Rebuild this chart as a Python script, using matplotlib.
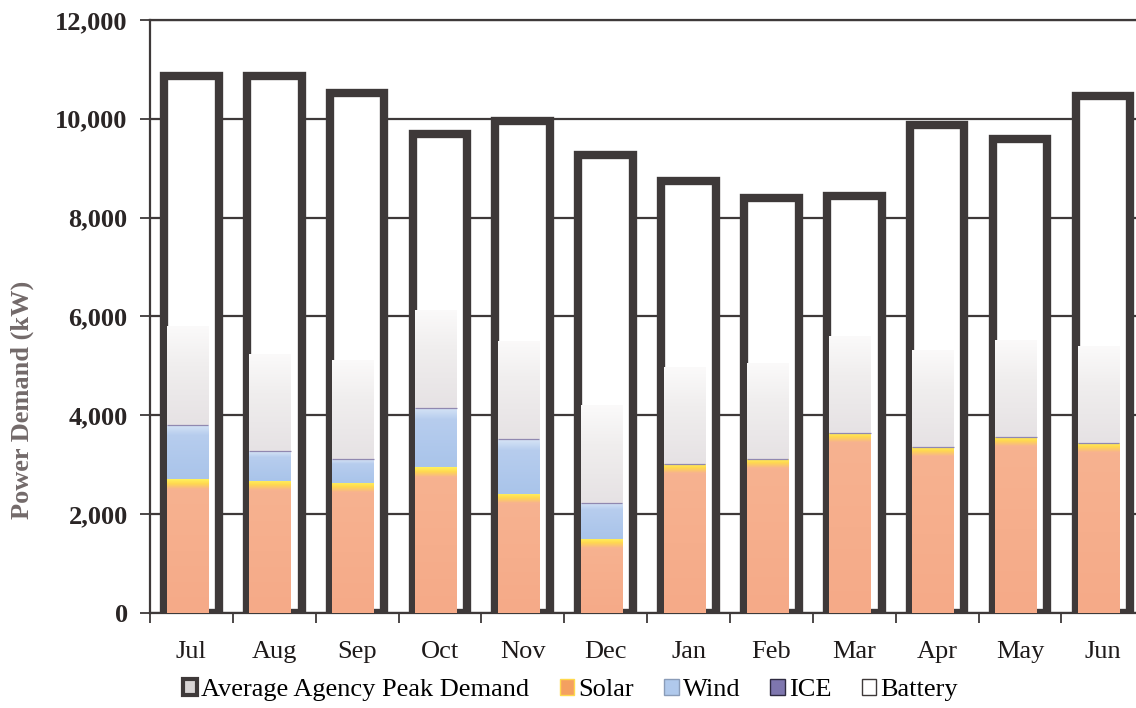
import numpy as np
import matplotlib.pyplot as plt
from matplotlib.colors import LinearSegmentedColormap
from matplotlib.patches import Patch

months = ["Jul", "Aug", "Sep", "Oct", "Nov", "Dec", "Jan", "Feb", "Mar", "Apr", "May", "Jun"]
peak_demand = [10870, 10860, 10530, 9700, 9950, 9270, 8740, 8390, 8440, 9880, 9590, 10460]
solar = [2710, 2680, 2640, 2950, 2410, 1500, 3015, 3120, 3650, 3370, 3570, 3450]
wind = [1100, 600, 470, 1200, 1110, 735, 0, 0, 0, 0, 0, 0]
ice = [0, 0, 0, 0, 0, 0, 0, 0, 0, 0, 0, 0]
battery = [1990, 1960, 2010, 1990, 1990, 1975, 1955, 1935, 1950, 1960, 1950, 1960]

DARK = "#3e3939"
SOLAR = "#f6ad8b"
WIND = "#b0c9ec"
ICE = "#7e76ae"
BATTERY = "#eeecec"


def gradient_fill(ax, rect, stops):
    # paint a vertical gradient inside a bar patch
    x, y = rect.get_xy()
    w, h = rect.get_width(), rect.get_height()
    if h <= 0:
        return
    cmap = LinearSegmentedColormap.from_list("g", stops)
    grad = np.linspace(0, 1, 256).reshape(-1, 1)
    im = ax.imshow(grad, extent=[x, x + w, y, y + h], origin="lower",
                   aspect="auto", cmap=cmap, zorder=rect.get_zorder() + 0.1)
    im.set_clip_path(rect)


fig = plt.figure(figsize=(11.36, 7.08), dpi=100)
ax = fig.add_axes([0.132, 0.134, 0.868, 0.838])

x = np.arange(len(months))
solar_arr = np.array(solar)
wind_arr = np.array(wind)
ice_arr = np.array(ice)

# outer demand bars: white with heavy dark frame
outer = ax.bar(x, peak_demand, width=0.66, color="white", edgecolor=DARK,
               linewidth=6, zorder=2)

# stacked supply bars inside
inner_x = x - 0.05
w_in = 0.5
b_solar = ax.bar(inner_x, solar, width=w_in, color=SOLAR, linewidth=0, zorder=3)
b_wind = ax.bar(inner_x, wind, width=w_in, bottom=solar_arr, color=WIND,
                linewidth=0, zorder=3)
b_ice = ax.bar(inner_x, ice, width=w_in, bottom=solar_arr + wind_arr, color=ICE,
               edgecolor="#9088b0", linewidth=0.9, zorder=4)
b_batt = ax.bar(inner_x, battery, width=w_in, bottom=solar_arr + wind_arr + ice_arr,
                color=BATTERY, linewidth=0, zorder=3)

for rect, val in zip(b_solar, solar):
    f = 90 / val
    gradient_fill(ax, rect, [(0, "#f5aa88"), (1 - 2.2 * f, "#f7b290"),
                             (1 - f, "#ffd850"), (1, "#fff25c")])
for rect in b_wind:
    gradient_fill(ax, rect, [(0, "#a9c4ea"), (0.8, "#b7cdee"), (1, "#d8e5f6")])
for rect in b_batt:
    gradient_fill(ax, rect, [(0, "#e6e2e4"), (0.6, "#f0eeee"), (1, "#fbfafa")])

ax.set_xlim(-0.5, 11.4)
ax.set_ylim(0, 12000)

ax.set_axisbelow(True)
ax.yaxis.grid(True, color=DARK, linewidth=1.6)
ax.set_yticks(range(0, 12001, 2000))
ax.set_yticklabels([f"{v:,}" for v in range(0, 12001, 2000)],
                   family="Liberation Serif", fontweight="bold", fontsize=19,
                   color="#2a2525")
ax.tick_params(axis="y", direction="out", length=7, width=1.3, color=DARK, pad=9)

ax.set_xticks(x)
ax.set_xticklabels(months, family="Liberation Serif", fontsize=19, color="#1e1a1a")
ax.set_xticks(np.arange(-0.5, 11.5, 1), minor=True)
ax.tick_params(axis="x", which="major", length=0, pad=20)
ax.tick_params(axis="x", which="minor", direction="out", length=7, width=1.3,
               color=DARK)

for side in ["left", "top", "bottom"]:
    ax.spines[side].set_color(DARK)
    ax.spines[side].set_linewidth(1.6)
ax.spines["right"].set_visible(False)

ax.set_ylabel("Power Demand (kW)", family="Liberation Serif", fontweight="bold",
              fontsize=19, color="#736a6a")
ax.yaxis.set_label_coords(-0.118, 0.36)

handles = [
    Patch(facecolor="#d8d4d4", edgecolor=DARK, linewidth=3),
    Patch(facecolor="#f4a060", edgecolor="#ffd94c", linewidth=1),
    Patch(facecolor=WIND, edgecolor="#8a9cb8", linewidth=1),
    Patch(facecolor=ICE, edgecolor="#2e2a40", linewidth=1),
    Patch(facecolor="white", edgecolor=DARK, linewidth=1),
]
labels = ["Average Agency Peak Demand", "Solar", "Wind", "ICE", "Battery"]
fig.legend(handles, labels, loc="center", bbox_to_anchor=(0.502, 0.025), ncol=5,
           frameon=False, handlelength=0.55, handleheight=0.55, handletextpad=0.15,
           columnspacing=1.15, prop={"family": "Liberation Serif", "size": 19})

fig.savefig("out.png", dpi=100)
